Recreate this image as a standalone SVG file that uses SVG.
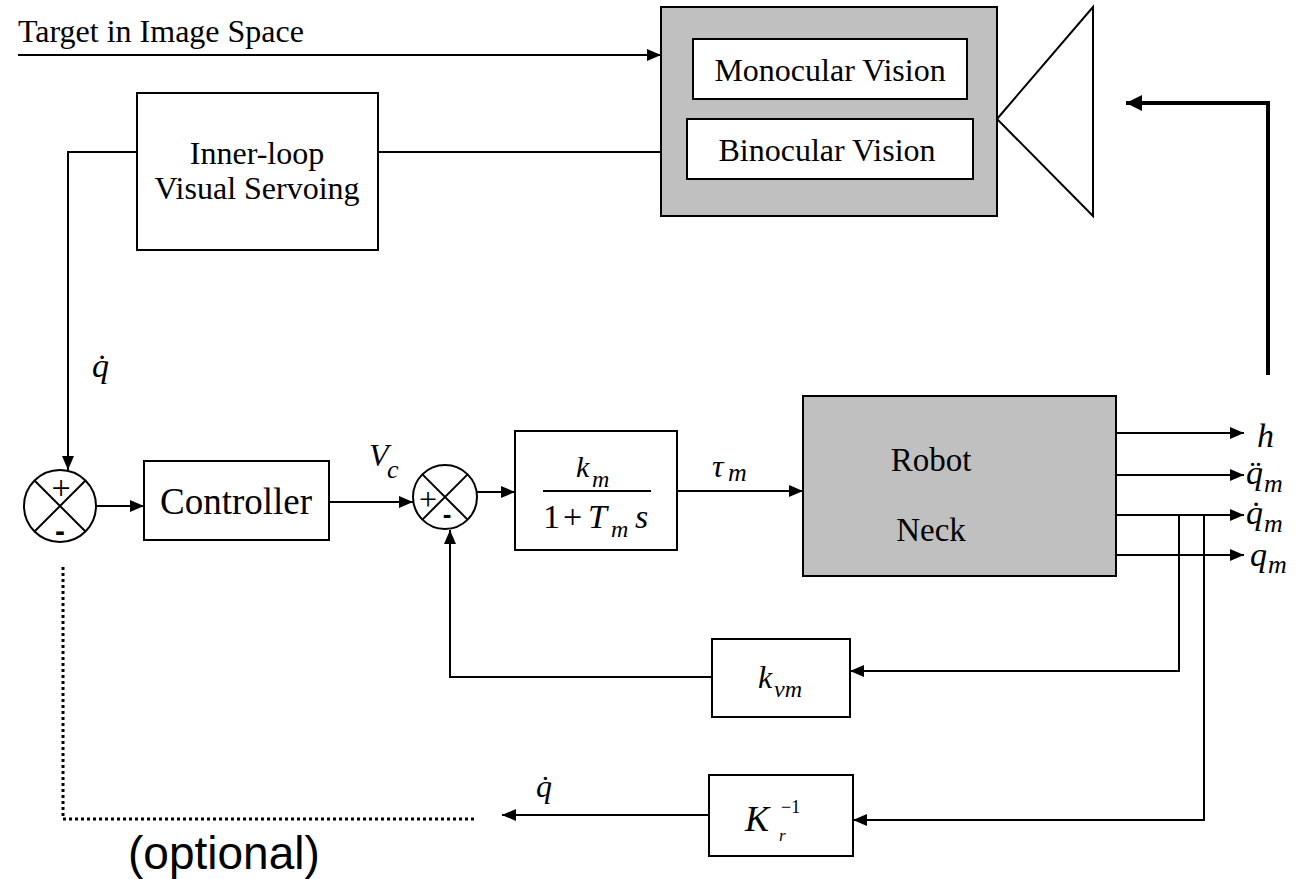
<svg xmlns="http://www.w3.org/2000/svg" width="1300" height="879" viewBox="0 0 1300 879">
<defs>
<marker id="ah" markerUnits="userSpaceOnUse" markerWidth="14" markerHeight="12" refX="14" refY="6" orient="auto"><path d="M0,0 L14,6 L0,12 z" fill="#000"/></marker>
<marker id="ahb" markerUnits="userSpaceOnUse" markerWidth="16" markerHeight="16" refX="16" refY="8" orient="auto"><path d="M0,0 L16,8 L0,16 z" fill="#000"/></marker>
<style>
.box{fill:#fff;stroke:#000;stroke-width:2}
.gray{fill:#c0c0c0;stroke:#000;stroke-width:2}
.ln{fill:none;stroke:#000;stroke-width:2}
.t{font-family:"Liberation Serif","Times New Roman",serif;fill:#000}
.m{font-family:"Liberation Serif","Times New Roman",serif;font-style:italic;fill:#000}
.s{font-family:"Liberation Sans",Arial,sans-serif;fill:#000}
</style>
</defs>
<rect width="1300" height="879" fill="#fff"/>

<g id="connectors">
<path class="ln" d="M18,55 H661" marker-end="url(#ah)"/>
<path class="ln" d="M378,152 H661"/>
<path class="ln" d="M137,152 H68 V470" marker-end="url(#ah)"/>
<path class="ln" d="M96,506 H144" marker-end="url(#ah)"/>
<path class="ln" d="M329,502 H413" marker-end="url(#ah)"/>
<path class="ln" d="M477,492 H515" marker-end="url(#ah)"/>
<path class="ln" d="M677,491 H803" marker-end="url(#ah)"/>
<path class="ln" d="M1116,433 H1244" marker-end="url(#ah)"/>
<path class="ln" d="M1116,475 H1244" marker-end="url(#ah)"/>
<path class="ln" d="M1116,515 H1244" marker-end="url(#ah)"/>
<path class="ln" d="M1116,555 H1244" marker-end="url(#ah)"/>
<path class="ln" d="M1179,515 V671 H850" marker-end="url(#ah)"/>
<path class="ln" d="M712,677 H450 V530" marker-end="url(#ah)"/>
<path class="ln" d="M1204,515 V820 H853" marker-end="url(#ah)"/>
<path class="ln" d="M709,815 H502" marker-end="url(#ah)"/>
<path fill="none" stroke="#000" stroke-width="3" stroke-dasharray="3 3" d="M63,567 V819 H477"/>
<path fill="none" stroke="#000" stroke-width="4" d="M1268,375 V103 H1126" marker-end="url(#ahb)"/>
</g>

<g id="target-label"><text class="t" x="18" y="42" font-size="32">Target in Image Space</text></g>

<g id="vision">
<rect class="gray" x="661" y="7" width="336" height="209"/>
<g id="monocular"><rect class="box" x="693" y="39" width="274" height="60"/><text class="t" x="830" y="81" font-size="32" text-anchor="middle">Monocular Vision</text></g>
<g id="binocular"><rect class="box" x="687" y="119" width="286" height="60"/><text class="t" x="827" y="161" font-size="32" text-anchor="middle">Binocular Vision</text></g>
</g>

<g id="camera"><polygon points="997,119 1093,7 1093,216" fill="#fff" stroke="#000" stroke-width="2"/></g>

<g id="inner-loop">
<rect class="box" x="137" y="93" width="241" height="157"/>
<text class="t" x="257" y="164" font-size="32" text-anchor="middle">Inner-loop</text>
<text class="t" x="257" y="199" font-size="32" text-anchor="middle">Visual Servoing</text>
</g>

<g id="qdot-top"><text class="m" x="92" y="377" font-size="34">q̇</text></g>

<g id="sum1">
<circle cx="60" cy="506" r="36" fill="#fff" stroke="#000" stroke-width="2"/>
<path class="ln" d="M34.5,480.5 L85.5,531.5 M85.5,480.5 L34.5,531.5"/>
<text class="t" x="61" y="499" font-size="34" text-anchor="middle">+</text>
<text class="s" x="60" y="541" font-size="30" font-weight="bold" text-anchor="middle">-</text>
</g>

<g id="controller">
<rect class="box" x="144" y="461" width="185" height="79"/>
<text class="t" x="236" y="514" font-size="37" text-anchor="middle">Controller</text>
</g>

<g id="vc-label"><text class="m" x="369" y="466" font-size="32">V</text><text class="m" x="387" y="478" font-size="26">c</text></g>

<g id="sum2">
<circle cx="445" cy="497" r="32" fill="#fff" stroke="#000" stroke-width="2"/>
<path class="ln" d="M422.4,474.4 L467.6,519.6 M467.6,474.4 L422.4,519.6"/>
<text class="t" x="428" y="510" font-size="32" text-anchor="middle">+</text>
<text class="s" x="447" y="523" font-size="26" font-weight="bold" text-anchor="middle">-</text>
</g>

<g id="motor">
<rect class="box" x="515" y="431" width="162" height="119"/>
<line class="ln" x1="543" y1="491" x2="651" y2="491"/>
<text class="m" x="576" y="477" font-size="30">k</text><text class="m" x="592" y="487" font-size="24">m</text>
<text class="t" x="543" y="528" font-size="34">1</text><text class="t" x="563" y="528" font-size="34">+</text>
<text class="m" x="588" y="528" font-size="34">T</text><text class="m" x="611" y="537" font-size="24">m</text><text class="m" x="635" y="528" font-size="34">s</text>
</g>

<g id="tau-label"><text class="m" x="712" y="477" font-size="32">τ</text><text class="m" x="728" y="481" font-size="26">m</text></g>

<g id="robot">
<rect class="gray" x="803" y="396" width="313" height="180"/>
<text class="t" x="931" y="471" font-size="33" text-anchor="middle">Robot</text>
<text class="t" x="931" y="541" font-size="33" text-anchor="middle">Neck</text>
</g>

<g id="outputs">
<text class="m" x="1257" y="447" font-size="34">h</text>
<text class="m" x="1246" y="484" font-size="34">q̈</text><text class="m" x="1264" y="492" font-size="26">m</text>
<text class="m" x="1246" y="524" font-size="34">q̇</text><text class="m" x="1264" y="532" font-size="26">m</text>
<text class="m" x="1250" y="566" font-size="34">q</text><text class="m" x="1268" y="573" font-size="26">m</text>
</g>

<g id="kvm">
<rect class="box" x="712" y="639" width="138" height="78"/>
<text class="m" x="758" y="688" font-size="32">k</text><text class="m" x="774" y="697" font-size="24">vm</text>
</g>

<g id="kr-inv">
<rect class="box" x="709" y="775" width="144" height="81"/>
<text class="m" x="745" y="831" font-size="36">K</text>
<text class="m" x="779" y="841" font-size="17">r</text>
<text class="t" x="781" y="813" font-size="18">−1</text>
</g>

<g id="qdot-bottom"><text class="m" x="536" y="797" font-size="32">q̇</text></g>

<g id="optional"><text class="s" x="128" y="869" font-size="46">(optional)</text></g>
</svg>
